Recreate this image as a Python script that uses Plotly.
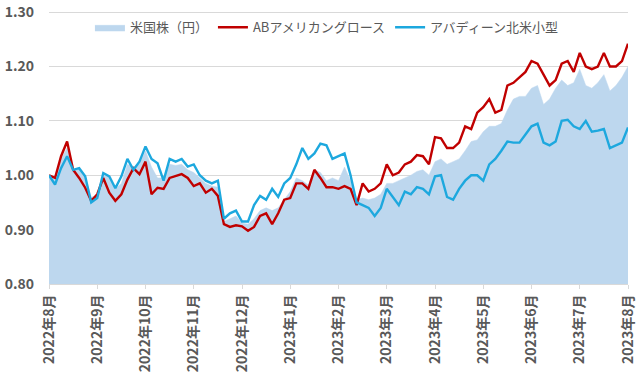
import plotly.graph_objects as go

month_labels = ["2022年8月", "2022年9月", "2022年10月", "2022年11月", "2022年12月",
                "2023年1月", "2023年2月", "2023年3月", "2023年4月", "2023年5月",
                "2023年6月", "2023年7月", "2023年8月"]
points_per_month = 8
y_ticks = [0.80, 0.90, 1.00, 1.10, 1.20, 1.30]

us_equity = [1.000, 0.995, 1.030, 1.050, 1.010, 1.010, 0.995, 0.960, 0.962, 1.000,
             0.998, 0.975, 0.985, 1.020, 1.015, 1.020, 1.045, 1.015, 0.995, 0.995,
             1.020, 1.018, 1.020, 1.010, 1.005, 0.995, 0.985, 0.980, 0.978, 0.915,
             0.920, 0.925, 0.912, 0.910, 0.920, 0.935, 0.940, 0.935, 0.940, 0.955,
             0.970, 0.995, 0.990, 0.982, 1.010, 1.005, 0.990, 0.995, 0.990, 1.015,
             0.990, 0.955, 0.958, 0.955, 0.958, 0.965, 0.985, 0.985, 0.990, 0.995,
             1.000, 1.007, 1.010, 1.000, 1.025, 1.030, 1.020, 1.025, 1.030, 1.045,
             1.062, 1.065, 1.080, 1.090, 1.090, 1.095, 1.120, 1.140, 1.145, 1.145,
             1.160, 1.165, 1.130, 1.140, 1.160, 1.175, 1.165, 1.170, 1.195, 1.165,
             1.160, 1.170, 1.185, 1.155, 1.165, 1.180, 1.200]

ab_growth = [1.000, 0.995, 1.035, 1.062, 1.010, 0.995, 0.977, 0.953, 0.965, 0.995,
             0.968, 0.953, 0.965, 0.992, 1.013, 1.002, 1.025, 0.965, 0.977, 0.975,
             0.995, 0.998, 1.002, 0.995, 0.980, 0.985, 0.968, 0.975, 0.962, 0.910,
             0.905, 0.908, 0.906, 0.898, 0.905, 0.925, 0.930, 0.910, 0.930, 0.955,
             0.958, 0.985, 0.985, 0.975, 1.010, 0.995, 0.978, 0.978, 0.975, 0.980,
             0.975, 0.945, 0.985, 0.970, 0.975, 0.985, 1.020, 1.000, 1.005, 1.020,
             1.025, 1.037, 1.035, 1.020, 1.070, 1.068, 1.050, 1.050, 1.060, 1.090,
             1.085, 1.115, 1.125, 1.140, 1.115, 1.120, 1.165, 1.170, 1.180, 1.190,
             1.210, 1.205, 1.185, 1.165, 1.175, 1.205, 1.210, 1.190, 1.225, 1.200,
             1.195, 1.200, 1.225, 1.200, 1.200, 1.210, 1.242]

aberdeen_small = [1.000, 0.983, 1.013, 1.035, 1.010, 1.013, 0.998, 0.950, 0.958, 1.004,
                  0.998, 0.976, 0.998, 1.030, 1.010, 1.025, 1.053, 1.030, 1.022, 0.990,
                  1.030, 1.025, 1.030, 1.016, 1.020, 1.000, 0.990, 0.985, 0.990, 0.920,
                  0.930, 0.935, 0.915, 0.915, 0.945, 0.962, 0.955, 0.975, 0.960, 0.985,
                  0.995, 1.020, 1.050, 1.030, 1.040, 1.058, 1.055, 1.030, 1.035, 1.040,
                  1.000, 0.950, 0.945, 0.940, 0.925, 0.940, 0.975, 0.960, 0.945, 0.970,
                  0.965, 0.978, 0.975, 0.965, 0.998, 1.000, 0.960, 0.955, 0.975, 0.990,
                  1.000, 1.000, 0.990, 1.020, 1.030, 1.045, 1.062, 1.060, 1.060, 1.075,
                  1.090, 1.095, 1.060, 1.055, 1.062, 1.100, 1.102, 1.090, 1.085, 1.100,
                  1.080, 1.082, 1.085, 1.050, 1.055, 1.060, 1.088]

series_names = ["米国株（円）", "ABアメリカングロース", "アバディーン北米小型"]

xs = list(range(len(us_equity)))
tickvals = [i * points_per_month for i in range(len(month_labels))]

FONT = "Noto Sans CJK JP, sans-serif"
GRAY = "#595959"

fig = go.Figure()
fig.add_trace(go.Scatter(x=xs, y=us_equity, name=series_names[0], mode="lines",
                         fill="tozeroy", fillcolor="#BDD7EE",
                         line=dict(color="#BDD7EE", width=0.5)))
fig.add_trace(go.Scatter(x=xs, y=ab_growth, name=series_names[1], mode="lines",
                         line=dict(color="#C00000", width=2.4)))
fig.add_trace(go.Scatter(x=xs, y=aberdeen_small, name=series_names[2], mode="lines",
                         line=dict(color="#1DA8DE", width=2.4)))

fig.update_layout(
    width=640, height=377,
    margin=dict(l=49, r=12, t=11, b=93),
    paper_bgcolor="white", plot_bgcolor="white",
    font=dict(family=FONT, color=GRAY),
    legend=dict(orientation="h", x=0.48, xanchor="center", y=0.995, yanchor="top",
                font=dict(size=13, color=GRAY), bgcolor="rgba(0,0,0,0)",
                itemwidth=30, tracegroupgap=0),
    xaxis=dict(range=[0, xs[-1]], tickvals=tickvals, ticktext=month_labels,
               tickangle=-90, showgrid=False, zeroline=False, automargin=False,
               ticks="outside", ticklen=4, tickcolor="#D9D9D9",
               showline=True, linecolor="#D9D9D9", linewidth=1,
               tickfont=dict(size=14, color=GRAY, family=FONT, weight="bold")),
    yaxis=dict(range=[0.8, 1.302], tickvals=y_ticks, tickformat=".2f",
               showgrid=True, gridcolor="#D9D9D9", gridwidth=1, zeroline=False,
               automargin=False, ticklabelstandoff=14, ticklabeloverflow="allow",
               tickfont=dict(size=14, color=GRAY, family=FONT, weight="bold")),
)

fig.write_html("out.html", config={"displayModeBar": False},
               post_script="document.body.style.margin='0';document.body.style.padding='0';")
